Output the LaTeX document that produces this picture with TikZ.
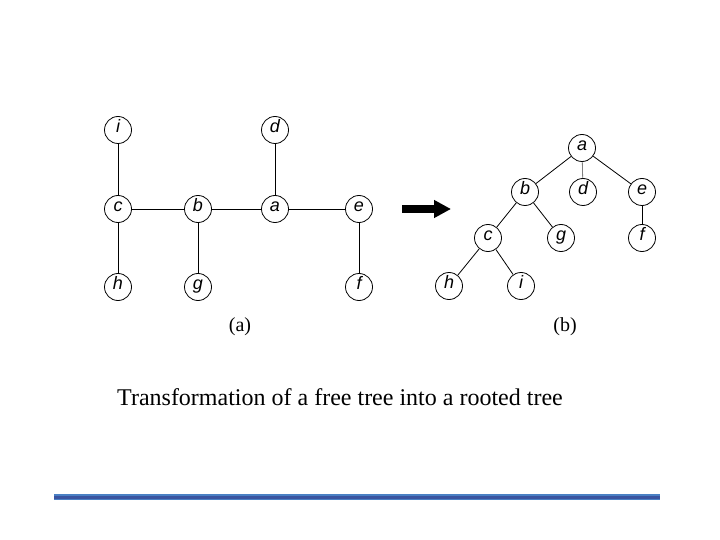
\documentclass[tikz,border=0pt]{standalone}
\usepackage{fontspec}
\setmainfont{Liberation Serif}
\setsansfont{Liberation Sans}
\usetikzlibrary{arrows.meta}

\definecolor{rulelight}{RGB}{74,128,196}
\definecolor{ruledark}{RGB}{58,84,160}

\tikzset{
  vtx/.style={circle,draw,line width=0.8pt,minimum size=27pt,inner sep=0pt,
    text height=1.1ex,text depth=0ex,
    font=\fontsize{18}{18}\selectfont\sffamily\itshape},
  edg/.style={line width=0.8pt}
}

\begin{document}
\begin{tikzpicture}[x=1pt,y=-1pt]

  % page
  \useasboundingbox (0,0) rectangle (720,540);

  % free tree
  \node[vtx] (fi) at (118,130) {i};
  \node[vtx] (fd) at (275,130) {d};
  \node[vtx] (fc) at (118,209) {c};
  \node[vtx] (fb) at (198,209) {b};
  \node[vtx] (fa) at (275,209) {a};
  \node[vtx] (fe) at (359,209) {e};
  \node[vtx] (fh) at (118,287) {h};
  \node[vtx] (fg) at (198,287) {g};
  \node[vtx] (ff) at (359,287) {f};

  \foreach \u/\v in {fi/fc,fc/fh,fc/fb,fb/fg,fb/fa,fa/fd,fa/fe,fe/ff}
    \draw[edg] (\u) -- (\v);

  % rooted tree
  \node[vtx] (ra) at (582,148) {a};
  \node[vtx] (rb) at (525,192) {b};
  \node[vtx] (rd) at (583,192) {d};
  \node[vtx] (re) at (642,192) {e};
  \node[vtx] (rc) at (488,238) {c};
  \node[vtx] (rg) at (561,238) {g};
  \node[vtx] (rf) at (642,238) {f};
  \node[vtx] (rh) at (449,286) {h};
  \node[vtx] (ri) at (521,286) {i};

  \foreach \u/\v in {ra/rb,ra/re,rb/rc,rb/rg,re/rf,rc/rh,rc/ri}
    \draw[edg] (\u) -- (\v);
  \draw[edg,gray] (ra) -- (rd);

  % arrow
  \coordinate (s) at (402,209);
  \coordinate (t) at (451,209);
  \draw[-{Triangle[length=17pt,width=17pt]},line width=8pt] (s) -- (t);

  % sub captions
  \node[font=\fontsize{20}{20}\selectfont] (la) at (240,327) {(a)};
  \node[font=\fontsize{20}{20}\selectfont] (lb) at (565,327) {(b)};

  % caption
  \node[font=\fontsize{24}{24}\selectfont] (cap) at (340,397)
    {Transformation of a free tree into a rooted tree};

  % blue rule
  \fill[rulelight] (54,494) rectangle (660,500);
  \fill[ruledark] (54,495.5) rectangle (660,498.5);
\end{tikzpicture}
\end{document}
